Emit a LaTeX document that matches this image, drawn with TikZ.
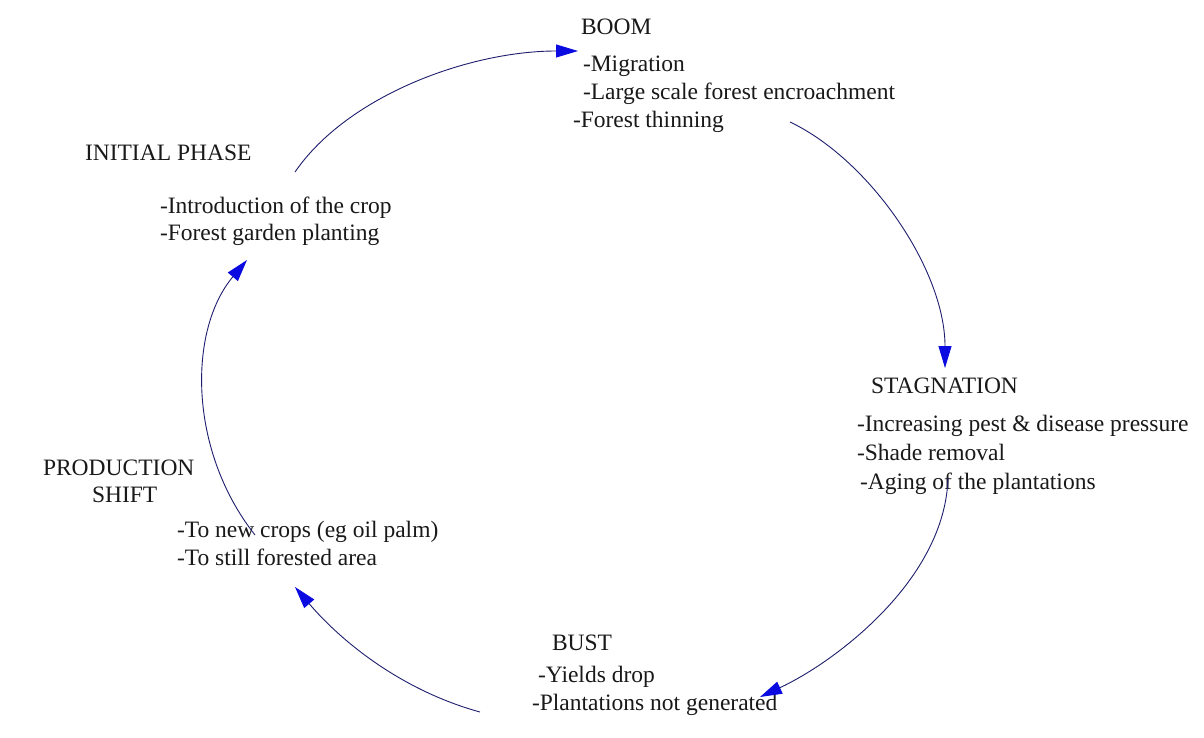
\documentclass[tikz,border=0pt]{standalone}
\usepackage{fontspec}
\setmainfont{Liberation Serif}
\usetikzlibrary{arrows.meta}
\definecolor{linkline}{RGB}{30,30,110}
\definecolor{tipblue}{RGB}{10,10,225}
\definecolor{ink}{RGB}{25,25,25}
\begin{document}
\begin{tikzpicture}[x=1pt,y=-1pt,
  lbl/.style={anchor=base west,inner sep=0pt,outer sep=0pt,text=ink,
    font=\fontsize{23.5}{28}\selectfont},
  link/.style={draw=linkline,line width=0.9pt,
    -{Triangle[length=22pt,width=13pt,color=tipblue]}}]
\useasboundingbox (0,0) rectangle (1204,738);
\fill[white] (0,0) rectangle (1204,738);

% Boom phase
\node[lbl] (boom)  at (581,35)  {BOOM};
\node[lbl] (boom1) at (583,72)  {-Migration};
\node[lbl] (boom2) at (583,100) {-Large scale forest encroachment};
\node[lbl] (boom3) at (573,128) {-Forest thinning};

% Stagnation phase
\node[lbl] (stag)  at (871,393) {STAGNATION};
\node[lbl] (stag1) at (857,431) {-Increasing pest \& disease pressure};
\node[lbl] (stag2) at (857,460) {-Shade removal};
\node[lbl] (stag3) at (860,489) {-Aging of the plantations};

% Bust phase
\node[lbl] (bust)  at (552,650) {BUST};
\node[lbl] (bust1) at (538,682) {-Yields drop};
\node[lbl] (bust2) at (532,710) {-Plantations not generated};

% Production shift
\node[lbl] (prod)  at (43,475)  {PRODUCTION};
\node[lbl] (prod0) at (92,502)  {SHIFT};
\node[lbl] (prod1) at (177,537) {-To new crops (eg oil palm)};
\node[lbl] (prod2) at (177,565) {-To still forested area};

% Initial phase
\node[lbl] (init)  at (85,161)  {INITIAL PHASE};
\node[lbl] (init1) at (160,213) {-Introduction of the crop};
\node[lbl] (init2) at (160,240) {-Forest garden planting};

% ends of the cycle arrows
\coordinate (a1s) at (295,172);
\coordinate (a1e) at (578,51);
\coordinate (a2s) at (790,122);
\coordinate (a2e) at (945,368);
\coordinate (a3s) at (948,478);
\coordinate (a3e) at (760,697);
\coordinate (a4s) at (480,712);
\coordinate (a4e) at (295,587);
\coordinate (a5s) at (255,535);
\coordinate (a5e) at (247,260);

\draw[link] (a1s) .. controls (348,95) and (470,51) .. (a1e);
\draw[link] (a2s) .. controls (870,160) and (945,270) .. (a2e);
\draw[link] (a3s) .. controls (945,580) and (835,662) .. (a3e);
\draw[link] (a4s) .. controls (400,690) and (340,640) .. (a4e);
\draw[link] (a5s) .. controls (188,450) and (188,330) .. (a5e);
\end{tikzpicture}
\end{document}
